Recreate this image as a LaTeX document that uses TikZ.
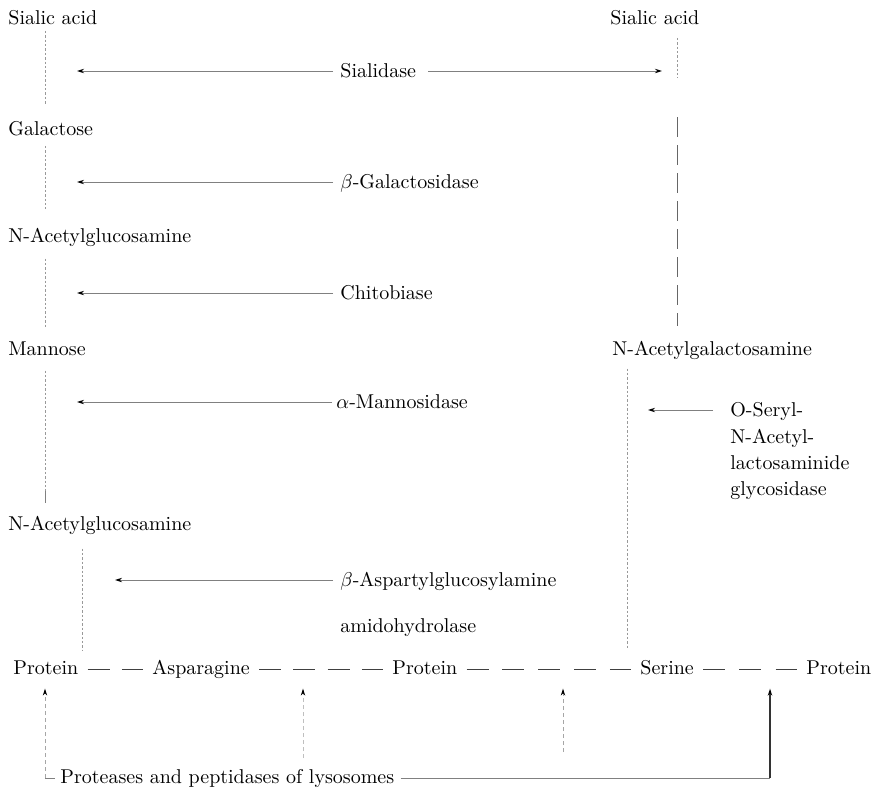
\documentclass[tikz,border=0pt]{standalone}
\usetikzlibrary{arrows.meta}
\begin{document}
\begin{tikzpicture}[x=0.5pt,y=-0.5pt,
  lbl/.style={anchor=base west,inner sep=0pt,font=\fontsize{10}{12}\selectfont},
  chain/.style={draw=black!40,line width=0.45pt,dash pattern=on 1.2pt off 1pt},
  chainb/.style={draw=black!60,line width=0.5pt,dash pattern=on 10pt off 4pt},
  enz/.style={draw=black!50,line width=0.5pt,-{Stealth[length=3.5pt,width=2.2pt,color=black]}},
  rowdash/.style={draw=black!75,line width=0.55pt},
  faintup/.style={draw=black!35,line width=0.45pt,dash pattern=on 2pt off 1.5pt,-{Stealth[length=3.5pt,width=2.2pt,color=black]}},
  darkup/.style={draw=black!80,line width=0.6pt,-{Stealth[length=3.5pt,width=2.2pt,color=black]}},
  base/.style={draw=black!50,line width=0.5pt}
]
\useasboundingbox (0,0) rectangle (876,793);

% coordinates for columns and tips
\coordinate (cx) at (45,0);
\coordinate (cx2) at (82,0);
\coordinate (rx) at (677,0);
\coordinate (rx2) at (627,0);
\coordinate (tipL) at (77,0);
\coordinate (tipL2) at (115,0);
\coordinate (tipSR) at (662,0);
\coordinate (tipR) at (648,0);

% sugar chain, left
\node[lbl] (sa1) at (8,24) {Sialic acid};
\node[lbl] (gal) at (8,135) {Galactose};
\node[lbl] (nag1) at (8,242) {N-Acetylglucosamine};
\node[lbl] (man) at (8,355) {Mannose};
\node[lbl] (nag2) at (8,530) {N-Acetylglucosamine};
% sugar chain, right
\node[lbl] (sa2) at (610,24) {Sialic acid};
\node[lbl] (nagal) at (612,355) {N-Acetylgalactosamine};

% enzymes
\node[lbl] (sial) at (340,77) {Sialidase};
\node[lbl] (bgal) at (340,188) {$\beta$-Galactosidase};
\node[lbl] (chit) at (340,299) {Chitobiase};
\node[lbl] (aman) at (336,408) {$\alpha$-Mannosidase};
\node[lbl] (basp) at (340,586) {$\beta$-Aspartylglucosylamine};
\node[lbl] (amid) at (340,632) {amidohydrolase};
\node[lbl] (os1) at (730,416) {O-Seryl-};
\node[lbl] (os2) at (730,443) {N-Acetyl-};
\node[lbl] (os3) at (730,469) {lactosaminide};
\node[lbl] (os4) at (730,495) {glycosidase};

% protein row
\node[lbl] (p1) at (13,674) {Protein};
\node[lbl] (asn) at (152,674) {Asparagine};
\node[lbl] (p2) at (392,674) {Protein};
\node[lbl] (ser) at (640,674) {Serine};
\node[lbl] (p3) at (806,674) {Protein};
\node[lbl] (lys) at (60,783) {Proteases and peptidases of lysosomes};

% left chain links
\draw[chain] ([yshift=-3pt]sa1.south -| cx) -- ([yshift=8pt]gal.north -| cx);
\draw[chain] ([yshift=-5pt]gal.south -| cx) -- ([yshift=9pt]nag1.north -| cx);
\draw[chain] ([yshift=-6pt]nag1.south -| cx) -- ([yshift=7pt]man.north -| cx);
\draw[chain] ([yshift=-7.5pt]man.south -| cx) -- ([yshift=12pt]nag2.north -| cx);
\draw[base] ([yshift=12pt]nag2.north -| cx) -- ([yshift=6pt]nag2.north -| cx);
\draw[chain] ([yshift=-7pt]nag2.south -| cx2) -- ([yshift=5pt]p1.north -| cx2);

% right chain links
\coordinate (r1) at (677,78);
\coordinate (r2) at (677,117);
\draw[chain] ([yshift=-6.5pt]sa2.south -| rx) -- (r1);
\draw[chainb] (r2) -- ([yshift=7pt]nagal.north -| rx);
\draw[chain] ([yshift=-4.5pt]nagal.south -| rx2) -- ([yshift=6pt]ser.north -| rx2);

% enzyme arrows
\draw[enz] ([xshift=-3.5pt,yshift=3pt]sial.base west) -- ([yshift=3pt]sial.base west -| tipL);
\draw[enz] ([xshift=6pt,yshift=3pt]sial.base east) -- ([yshift=3pt]sial.base east -| tipSR);
\draw[enz] ([xshift=-3.5pt,yshift=3pt]bgal.base west) -- ([yshift=3pt]bgal.base west -| tipL);
\draw[enz] ([xshift=-3.5pt,yshift=3pt]chit.base west) -- ([yshift=3pt]chit.base west -| tipL);
\draw[enz] ([xshift=-2pt,yshift=3pt]aman.base west) -- ([yshift=3pt]aman.base west -| tipL);
\draw[enz] ([xshift=-3.5pt,yshift=3pt]basp.base west) -- ([yshift=3pt]basp.base west -| tipL2);
\draw[enz] ([xshift=-8.5pt,yshift=3pt]os1.base west) -- ([yshift=3pt]os1.base west -| tipR);

% protein row dashes
\draw[rowdash,dash pattern=on 11pt off 6.1pt] ([xshift=4.5pt,yshift=2.3pt]p1.base east) -- ([xshift=-4.5pt,yshift=2.3pt]asn.base west);
\draw[rowdash,dash pattern=on 11pt off 6.1pt] ([xshift=4.5pt,yshift=2.3pt]asn.base east) -- ([xshift=-4.5pt,yshift=2.3pt]p2.base west);
\draw[rowdash,dash pattern=on 11pt off 6.9pt] ([xshift=4.5pt,yshift=2.3pt]p2.base east) -- ([xshift=-4.5pt,yshift=2.3pt]ser.base west);
\draw[rowdash,dash pattern=on 11pt off 7.1pt] ([xshift=4.5pt,yshift=2.3pt]ser.base east) -- ([xshift=-4.5pt,yshift=2.3pt]p3.base west);

% lysosomal proteases
\coordinate (b1) at (45,778);
\coordinate (b2) at (303,758);
\coordinate (b3) at (563,752);
\coordinate (b4) at (770,778);
\draw[faintup] (b1) -- ([yshift=-7pt]p1.south -| b1);
\draw[base] (b1) -- ([xshift=-2.5pt,yshift=2.5pt]lys.base west);
\draw[base] ([xshift=3pt,yshift=2.5pt]lys.base east) -- (b4);
\draw[darkup] (b4) -- ([yshift=-7pt]p3.south -| b4);
\draw[faintup,draw=black!25] (b2) -- ([yshift=-7pt]p1.south -| b2);
\draw[faintup] (b3) -- ([yshift=-7pt]p1.south -| b3);
\end{tikzpicture}
\end{document}
